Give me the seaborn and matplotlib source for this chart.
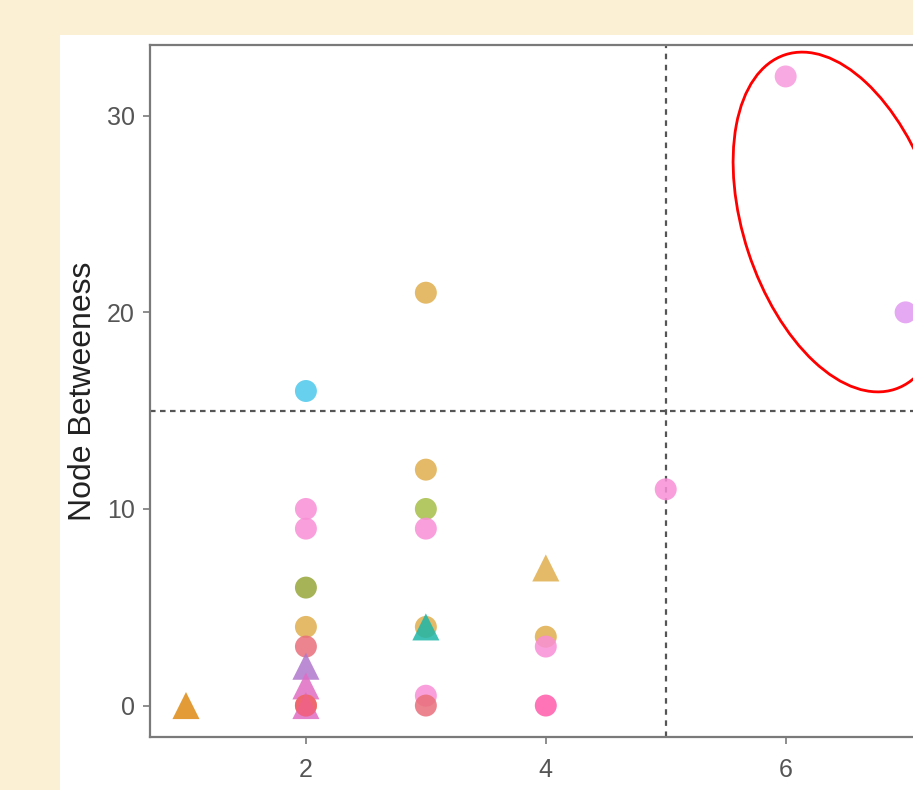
import numpy as np
import matplotlib
matplotlib.use("Agg")
import matplotlib.pyplot as plt
from matplotlib.patches import Ellipse, Rectangle
from matplotlib.transforms import IdentityTransform
import pandas as pd
import seaborn as sns

# data
degree = [1, 2, 2, 2, 2, 2, 2, 2, 2, 2, 2, 2,
          3, 3, 3, 3, 3, 3, 3, 3,
          4, 4, 4, 4, 5, 6, 7]
betweenness = [0, 16, 10, 9, 6, 4, 3, 2, 1, 0, 0, 0,
               21, 12, 10, 9, 4, 4, 0.5, 0,
               7, 3.5, 3, 0, 11, 32, 20]
group = ["orange", "cyan", "pink", "pink", "olive", "gold", "salmon", "purple",
         "magenta", "orange", "magenta", "red",
         "gold", "gold", "lime", "pink", "gold", "teal", "pink", "salmon",
         "gold", "gold", "pink", "hotpink", "pink", "pink2", "lavender"]
shape = ["triangle", "circle", "circle", "circle", "circle", "circle", "circle",
         "triangle", "triangle", "circle", "triangle", "circle",
         "circle", "circle", "circle", "circle", "circle", "triangle", "circle", "circle",
         "triangle", "circle", "circle", "circle", "circle", "circle", "circle"]

palette = {
    "orange": "#DE8A14", "cyan": "#4CC8EC", "pink": "#F98FD6", "olive": "#97A63A",
    "gold": "#E0AD4C", "salmon": "#E86F7A", "purple": "#AF78CC", "magenta": "#E06DC4",
    "red": "#F2607C", "lime": "#A6BD48", "teal": "#1DB6A8", "hotpink": "#FF5CAB",
    "pink2": "#F79ADC", "lavender": "#E199F0",
}

df = pd.DataFrame({"degree": degree, "betweenness": betweenness,
                   "group": group, "shape": shape})

sns.set_style("white")
plt.rcParams["font.family"] = ["Liberation Sans", "DejaVu Sans"]

fig = plt.figure(figsize=(9.13, 7.9), dpi=100, facecolor="#FBEFD4")
# white panel behind the plot
fig.add_artist(Rectangle((60 / 913, 0), 1, 1 - 35 / 790, transform=fig.transFigure,
                         facecolor="white", edgecolor="none", zorder=0))

ax = fig.add_axes([150 / 913, 1 - 737 / 790, 791.6 / 913, 692 / 790])
ax.set_facecolor("white")

sns.scatterplot(data=df, x="degree", y="betweenness", hue="group", style="shape",
                size="shape", sizes={"circle": 250, "triangle": 380},
                palette=palette, markers={"circle": "o", "triangle": "^"},
                alpha=0.85, linewidth=0, legend=False, ax=ax, zorder=3)

ax.axhline(15, color="#555555", lw=1.6, ls=(0, (2.5, 2)), zorder=1)
ax.axvline(5, color="#555555", lw=1.6, ls=(0, (2.5, 2.5)), zorder=1)

ax.set_xlim(0.7, 7.3)
ax.set_ylim(-1.6, 33.6)
ax.set_xticks([2, 4, 6])
ax.set_yticks([0, 10, 20, 30])

for sp in ax.spines.values():
    sp.set_color("#7A7A7A")
    sp.set_linewidth(1.6)
ax.tick_params(axis="both", direction="out", length=5, width=1.2, color="#7A7A7A",
               labelsize=18, labelcolor="#555555", left=True, bottom=True)
ax.tick_params(axis="x", pad=10)
ax.tick_params(axis="y", pad=6)

ax.set_ylabel("Node Betweeness", fontsize=23, color="#222222", labelpad=6)
ax.set_xlabel("Node Degree", fontsize=23, color="#222222", labelpad=6.5)

# red highlight ellipse (pixel coordinates)
fig.add_artist(Ellipse((840, 790 - 222), width=352, height=193, angle=108.2,
                       transform=IdentityTransform(), facecolor="none",
                       edgecolor="#FF0000", linewidth=2.0, zorder=5))

fig.savefig("out.png", dpi=100, facecolor=fig.get_facecolor())
